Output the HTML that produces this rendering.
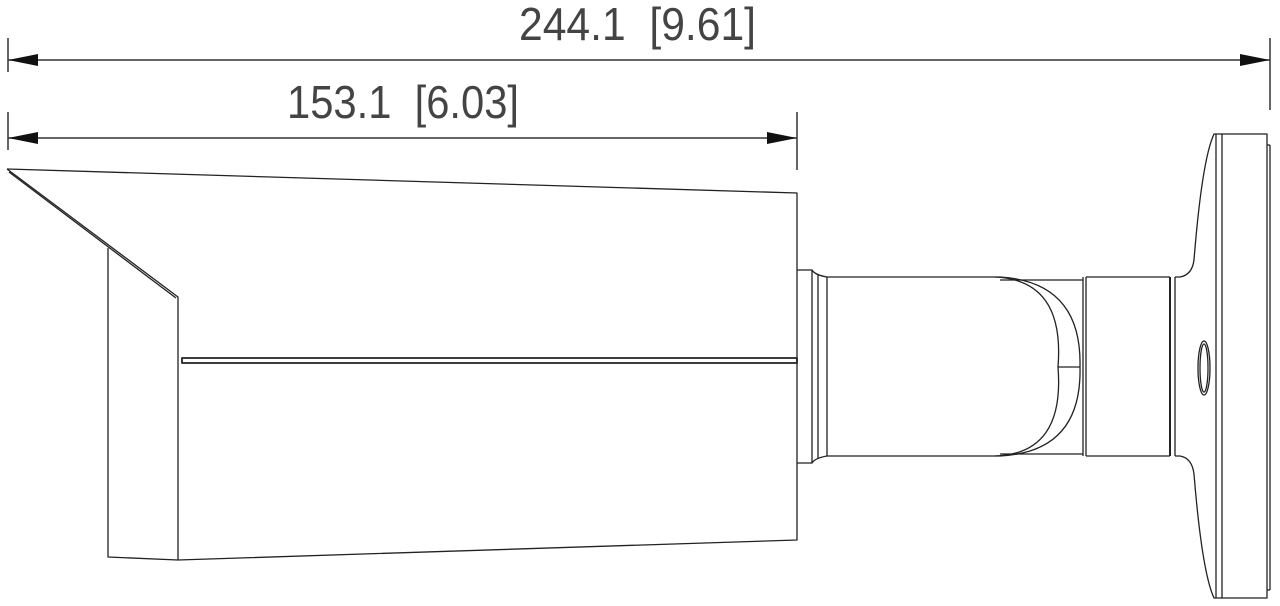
<!DOCTYPE html>
<html><head><style>html,body{margin:0;padding:0;background:#fff;width:1280px;height:606px;overflow:hidden}</style></head>
<body>
<svg width="1280" height="606" viewBox="0 0 1280 606" xmlns="http://www.w3.org/2000/svg">
<g font-family="Liberation Sans, sans-serif" font-size="46" fill="#444">
<text x="519" y="40" textLength="237" lengthAdjust="spacingAndGlyphs">244.1&#160;&#160;[9.61]</text>
<text x="287" y="118" textLength="232" lengthAdjust="spacingAndGlyphs">153.1&#160;&#160;[6.03]</text>
</g>
<g stroke="#333" stroke-width="1.5" fill="none">
<line x1="8" y1="60" x2="1270" y2="60"/>
<line x1="8" y1="38" x2="8" y2="72"/>
<line x1="1270" y1="38" x2="1270" y2="110"/>
<line x1="8" y1="138" x2="797" y2="138"/>
<line x1="8" y1="112" x2="8" y2="150"/>
<line x1="797" y1="112" x2="797" y2="170"/>
</g>
<g fill="#111">
<polygon points="8,60 38,54 38,66"/>
<polygon points="1270,60 1240,54 1240,66"/>
<polygon points="8,138 38,132 38,144"/>
<polygon points="797,138 767,132 767,144"/>
</g>
<g stroke="#222" stroke-width="1.3" fill="none" stroke-linejoin="round">
<polyline points="7,169 797,193 797,540 178,560 108,557 108,248"/>
<polyline points="7,169 178,297 178,560"/>
<line x1="9" y1="172" x2="176" y2="298"/>
<rect x="182" y="358" width="615" height="5" stroke-width="1.8"/>
<path d="M797,270 H812 Q815,275 827,277 H1000 M797,463 H812 Q815,458 827,456 H1000"/>
<line x1="812" y1="270" x2="812" y2="463"/>
<line x1="818" y1="274" x2="818" y2="459"/>
<line x1="827" y1="277" x2="827" y2="456"/>
<path d="M995,277 Q1065,280 1058,367 Q1065,454 995,456"/>
<path d="M1000,277 Q1082,282 1080,367 Q1082,452 1000,456"/>
<line x1="1000" y1="280" x2="1083" y2="280"/>
<line x1="1000" y1="454" x2="1083" y2="454"/>
<line x1="1058" y1="367" x2="1080" y2="367"/>
<line x1="1083" y1="277" x2="1083" y2="456"/>
<line x1="1086" y1="277" x2="1086" y2="456"/>
<line x1="1086" y1="277" x2="1170" y2="277"/>
<line x1="1086" y1="456" x2="1170" y2="456"/>
<line x1="1170" y1="277" x2="1170" y2="456" stroke-width="2"/>
<line x1="1175" y1="277" x2="1175" y2="456"/>
<path d="M1175,277 H1180 Q1192,275 1194,260 Q1202,160 1214,134 H1267 V598 H1214 Q1202,572 1194,474 Q1192,458 1180,456 H1175"/>
<line x1="1216" y1="134" x2="1216" y2="598"/>
<line x1="1222" y1="134" x2="1222" y2="598"/>
<line x1="1270" y1="145" x2="1270" y2="590"/>
<line x1="1267" y1="145" x2="1270" y2="145"/>
<line x1="1267" y1="590" x2="1270" y2="590"/>
<ellipse cx="1204" cy="368" rx="6" ry="27"/>
<ellipse cx="1204" cy="368" rx="4" ry="24"/>
</g>
</svg>
</body></html>
